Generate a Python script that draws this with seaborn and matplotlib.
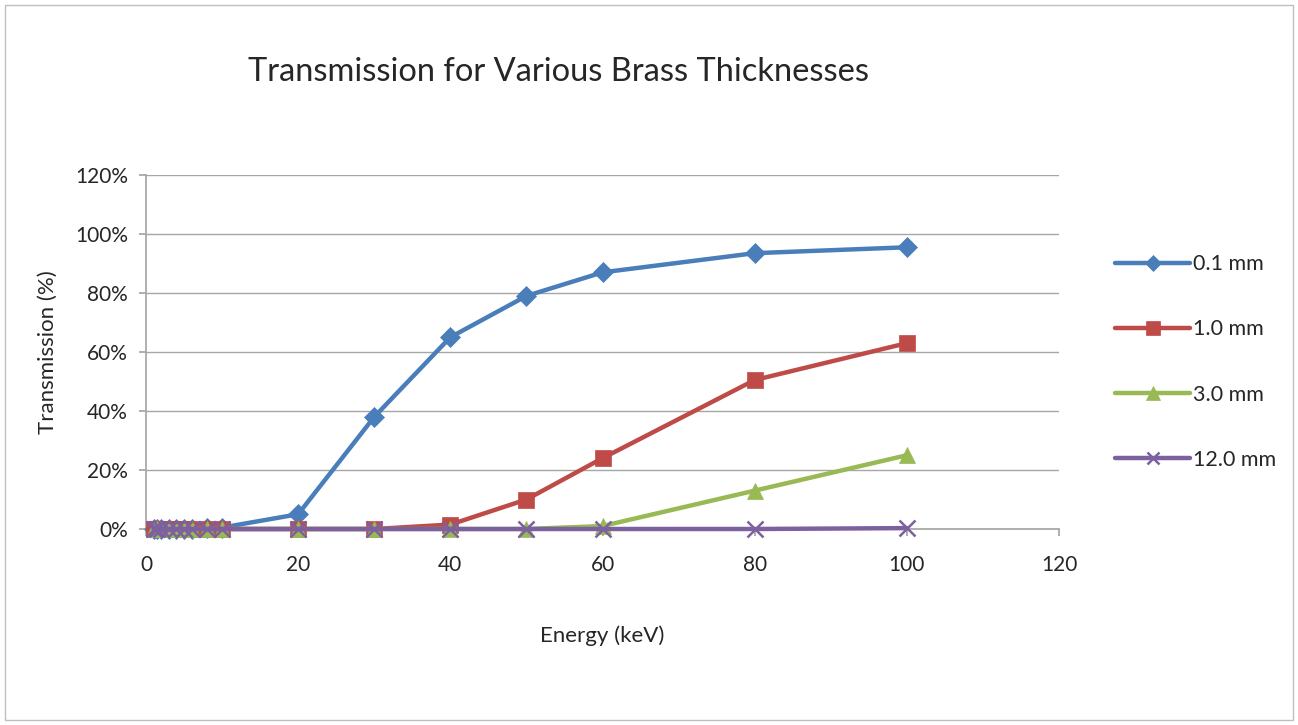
import matplotlib
matplotlib.use("Agg")
import matplotlib.pyplot as plt
import seaborn as sns
import pandas as pd
from matplotlib.patches import Rectangle

energy = [1, 1.5, 2, 3, 4, 5, 6, 8, 10, 20, 30, 40, 50, 60, 80, 100]
t_01 = [0, 0, 0, 0, 0, 0, 0, 0.3, 0.5, 5, 38, 65, 79, 87, 93.5, 95.5]
t_10 = [0, 0, 0, 0, 0, 0, 0, 0, 0, 0, 0, 1.5, 10, 24, 50.5, 63]
t_30 = [0, 0, 0, 0, 0, 0, 0, 0, 0, 0, 0, 0, 0, 1, 13, 25]
t_120 = [0, 0, 0, 0, 0, 0, 0, 0, 0, 0, 0, 0, 0, 0, 0, 0.3]
series_names = ["0.1 mm", "1.0 mm", "3.0 mm", "12.0 mm"]
colors = ["#4a7ebb", "#be4b48", "#98b954", "#7d60a0"]
markers = ["D", "s", "^", "x"]
xticks = [0, 20, 40, 60, 80, 100, 120]
yticks = [0, 20, 40, 60, 80, 100, 120]

rows = []
for name, vals in zip(series_names, [t_01, t_10, t_30, t_120]):
    for e, v in zip(energy, vals):
        rows.append({"Energy": e, "T": v, "Series": name})
df = pd.DataFrame(rows)

sns.set_theme(style="white")
plt.rcParams['font.family'] = ['Lato', 'DejaVu Sans']

fig = plt.figure(figsize=(12.98, 7.25), dpi=100)
ax = fig.add_axes([146/1298, 1 - 529/725, (1059-146)/1298, (529-175)/725])

sizes = {"0.1 mm": 10, "1.0 mm": 12, "3.0 mm": 12, "12.0 mm": 11}
for i, (name, c, m) in enumerate(zip(series_names, colors, markers)):
    sub = df[df.Series == name]
    sns.lineplot(data=sub, x="Energy", y="T", ax=ax, color=c, marker=m,
                 markersize=sizes[name], linewidth=3.2, label=name,
                 markeredgecolor=c, markeredgewidth=1.8 if m == "x" else 0.5,
                 zorder=3 + i, clip_on=False)

ax.set_xlim(0, 120)
ax.set_ylim(0, 120)
ax.set_xticks(xticks)
ax.set_yticks(yticks)
ax.set_xticklabels([str(t) for t in xticks], fontsize=15)
ax.set_yticklabels([f"{t}%" for t in yticks], fontsize=15)
ax.yaxis.grid(True, color="#a6a6a6", linewidth=1)
ax.xaxis.grid(False)
for s in ["top", "right"]:
    ax.spines[s].set_visible(False)
ax.spines["left"].set_color("#a6a6a6")
ax.spines["bottom"].set_color("#a6a6a6")
ax.tick_params(axis="y", length=5, color="#a6a6a6", direction="out", left=True, pad=8)
ax.tick_params(axis="x", length=5, color="#a6a6a6", direction="out", bottom=True, pad=14)
ax.set_xlabel("Energy (keV)", fontsize=16, labelpad=36)
ax.set_ylabel("Transmission (%)", fontsize=16, labelpad=12)

leg = ax.legend(loc="center left", bbox_to_anchor=(1.04, 0.472), frameon=False,
                fontsize=15.5, labelspacing=2.1, handlelength=3.5, handletextpad=0.15,
                markerscale=0.8)

fig.text(558/1298, 1 - 72/725, "Transmission for Various Brass Thicknesses",
         ha="center", va="center", fontsize=23.5)

fig.patches.append(Rectangle((5/1298, 5/725), 1 - 10/1298, 1 - 10/725,
                             transform=fig.transFigure, fill=False,
                             edgecolor="#bfbfbf", linewidth=1))

fig.savefig("out.png", dpi=100)
